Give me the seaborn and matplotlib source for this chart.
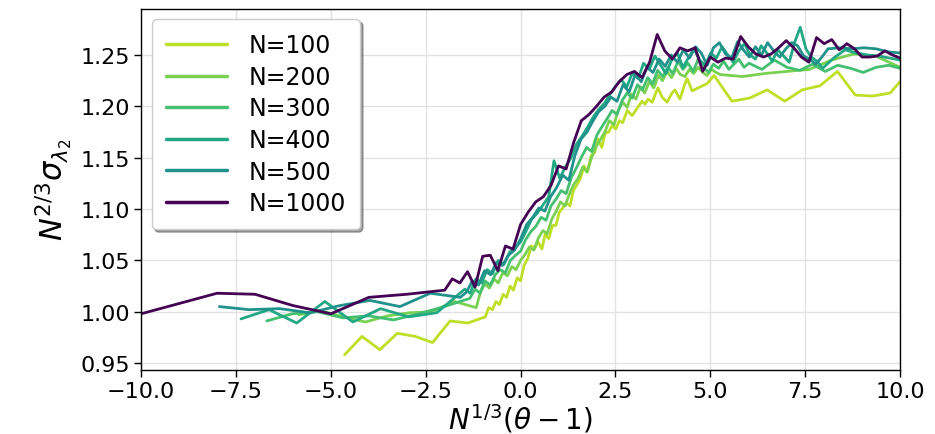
import numpy as np
import pandas as pd
import matplotlib
matplotlib.use("Agg")
import matplotlib.pyplot as plt
import seaborn as sns

# ── data: x = N^{1/3}(theta-1), y = N^{2/3} sigma ──
x_100 = [-4.64, -4.18, -3.71, -3.25, -2.78, -2.32, -1.86, -1.39, -0.93, -0.84, -0.74, -0.65,
         -0.56, -0.46, -0.37, -0.28, -0.19, -0.09, 0.0, 0.09, 0.19, 0.28, 0.37, 0.46, 0.56,
         0.65, 0.74, 0.84, 0.93, 1.02, 1.11, 1.21, 1.30, 1.39, 1.49, 1.58, 1.67, 1.76, 1.86,
         1.95, 2.04, 2.14, 2.23, 2.32, 2.41, 2.51, 2.60, 2.69, 2.81, 2.94, 3.07, 3.20, 3.28,
         3.36, 3.47, 3.54, 3.62, 3.73, 3.86, 3.99, 4.07, 4.20, 4.33, 4.39, 4.52, 4.68, 4.91,
         5.10, 5.57, 6.03, 6.50, 6.96, 7.42, 7.89, 8.35, 8.82, 9.28, 9.74, 10.0]
y_100 = [0.958, 0.976, 0.963, 0.979, 0.976, 0.970, 0.991, 0.989, 0.995, 1.004, 1.002, 1.010,
         1.007, 1.017, 1.014, 1.025, 1.021, 1.033, 1.030, 1.045, 1.052, 1.064, 1.062, 1.068, 1.061,
         1.076, 1.071, 1.084, 1.084, 1.097, 1.101, 1.106, 1.103, 1.118, 1.124, 1.130, 1.142, 1.136, 1.152,
         1.155, 1.168, 1.160, 1.174, 1.175, 1.181, 1.178, 1.186, 1.184, 1.196, 1.191, 1.198, 1.205, 1.202,
         1.207, 1.204, 1.211, 1.218, 1.209, 1.204, 1.213, 1.216, 1.207, 1.222, 1.227, 1.215, 1.218, 1.222,
         1.230, 1.205, 1.208, 1.216, 1.205, 1.216, 1.220, 1.234, 1.211, 1.210, 1.213, 1.224]

x_200 = [-5.85, -5.26, -4.68, -4.09, -3.51, -2.92, -2.34, -1.75, -1.17, -1.05, -0.94, -0.82,
         -0.70, -0.59, -0.47, -0.35, -0.23, -0.12, 0.0, 0.12, 0.23, 0.35, 0.47, 0.59, 0.70,
         0.82, 0.94, 1.05, 1.17, 1.29, 1.40, 1.52, 1.64, 1.75, 1.87, 1.99, 2.11, 2.22, 2.34,
         2.46, 2.57, 2.69, 2.81, 2.92, 3.04, 3.16, 3.27, 3.39, 3.51, 3.63, 3.74, 3.86, 3.98,
         4.10, 4.21, 4.33, 4.45, 4.56, 4.68, 4.80, 4.91, 5.03, 5.15, 5.26, 5.85, 6.44, 7.02,
         7.61, 8.19, 8.78, 9.36, 10.0]
y_200 = [0.997, 1.001, 0.995, 0.990, 0.996, 0.999, 1.000, 1.010, 1.004, 1.020, 1.027, 1.023,
         1.032, 1.028, 1.038, 1.035, 1.044, 1.041, 1.050, 1.056, 1.063, 1.060, 1.072, 1.079, 1.076,
         1.090, 1.098, 1.107, 1.103, 1.115, 1.124, 1.130, 1.141, 1.136, 1.150, 1.161, 1.168, 1.175, 1.186,
         1.182, 1.196, 1.204, 1.199, 1.212, 1.207, 1.219, 1.213, 1.224, 1.218, 1.230, 1.225, 1.234, 1.228,
         1.237, 1.231, 1.229, 1.236, 1.232, 1.238, 1.233, 1.230, 1.236, 1.233, 1.231, 1.229, 1.232, 1.234,
         1.236, 1.245, 1.251, 1.249, 1.238]

x_300 = [-6.69, -6.02, -5.35, -4.68, -4.01, -3.35, -2.68, -2.01, -1.34, -1.20, -1.07, -0.94,
         -0.80, -0.67, -0.54, -0.40, -0.27, -0.13, 0.0, 0.13, 0.27, 0.40, 0.54, 0.67, 0.80,
         0.94, 1.07, 1.20, 1.34, 1.47, 1.61, 1.74, 1.87, 2.01, 2.14, 2.28, 2.41, 2.54, 2.68,
         2.81, 2.94, 3.08, 3.21, 3.35, 3.48, 3.61, 3.75, 3.88, 4.01, 4.15, 4.28, 4.41, 4.55,
         4.68, 4.82, 4.95, 5.08, 5.22, 5.35, 5.49, 5.62, 5.75, 5.89, 6.02, 6.36, 6.69, 7.02,
         7.36, 7.69, 8.03, 8.36, 8.70, 9.03, 9.37, 9.70, 10.0]
y_300 = [0.991, 0.998, 1.000, 0.994, 0.996, 0.992, 0.998, 1.005, 1.013, 1.022, 1.018, 1.030,
         1.026, 1.036, 1.041, 1.038, 1.050, 1.055, 1.059, 1.070, 1.078, 1.083, 1.092, 1.089, 1.103,
         1.110, 1.118, 1.115, 1.131, 1.140, 1.151, 1.160, 1.156, 1.172, 1.180, 1.188, 1.196, 1.192, 1.206,
         1.213, 1.208, 1.221, 1.216, 1.228, 1.222, 1.235, 1.229, 1.238, 1.232, 1.244, 1.236, 1.242, 1.234,
         1.246, 1.238, 1.233, 1.241, 1.237, 1.244, 1.236, 1.241, 1.246, 1.238, 1.242, 1.236, 1.245, 1.238,
         1.235, 1.241, 1.234, 1.240, 1.237, 1.233, 1.238, 1.240, 1.237]

x_400 = [-7.37, -6.63, -5.90, -5.16, -4.42, -3.69, -2.95, -2.21, -1.47, -1.33, -1.18, -1.03,
         -0.88, -0.74, -0.59, -0.44, -0.29, -0.15, 0.0, 0.15, 0.29, 0.44, 0.59, 0.74, 0.88,
         1.03, 1.18, 1.33, 1.47, 1.62, 1.77, 1.92, 2.06, 2.21, 2.36, 2.51, 2.65, 2.80, 2.95,
         3.10, 3.24, 3.39, 3.54, 3.69, 3.83, 3.98, 4.13, 4.28, 4.42, 4.57, 4.72, 4.87, 5.01,
         5.16, 5.31, 5.46, 5.60, 5.75, 5.90, 6.05, 6.19, 6.34, 6.49, 6.63, 6.78, 6.93, 7.08,
         7.22, 7.37, 7.52, 7.66, 7.81, 7.96, 8.25, 8.55, 8.84, 9.14, 9.43, 9.73, 10.0]
y_400 = [0.993, 1.002, 0.989, 1.010, 0.990, 1.003, 0.995, 0.999, 1.022, 1.018, 1.032, 1.028,
         1.041, 1.037, 1.050, 1.046, 1.058, 1.062, 1.068, 1.079, 1.090, 1.096, 1.104, 1.112, 1.147,
         1.130, 1.141, 1.150, 1.163, 1.171, 1.180, 1.190, 1.197, 1.203, 1.212, 1.220, 1.226, 1.219, 1.233,
         1.227, 1.242, 1.236, 1.249, 1.240, 1.232, 1.245, 1.252, 1.238, 1.247, 1.256, 1.245, 1.240, 1.252,
         1.247, 1.258, 1.250, 1.243, 1.254, 1.261, 1.250, 1.246, 1.259, 1.252, 1.244, 1.255, 1.249, 1.243,
         1.262, 1.277, 1.256, 1.248, 1.244, 1.237, 1.247, 1.255, 1.252, 1.250, 1.249, 1.247, 1.245]

x_500 = [-7.94, -7.15, -6.35, -5.56, -4.76, -3.97, -3.18, -2.38, -1.59, -1.43, -1.27, -1.11,
         -0.95, -0.79, -0.64, -0.48, -0.32, -0.16, 0.0, 0.16, 0.32, 0.48, 0.64, 0.79, 0.95,
         1.11, 1.27, 1.43, 1.59, 1.75, 1.91, 2.06, 2.22, 2.38, 2.54, 2.70, 2.86, 3.02, 3.18,
         3.33, 3.49, 3.65, 3.81, 3.97, 4.13, 4.29, 4.45, 4.61, 4.76, 4.92, 5.08, 5.24, 5.40,
         5.56, 5.72, 5.87, 6.03, 6.19, 6.35, 6.51, 6.67, 6.83, 6.99, 7.15, 7.30, 7.46, 7.62,
         7.78, 7.94, 8.10, 8.41, 8.73, 9.05, 9.37, 9.69, 10.0]
y_500 = [1.005, 1.002, 1.003, 0.999, 1.006, 1.011, 1.005, 1.018, 1.014, 1.019, 1.030, 1.026,
         1.040, 1.036, 1.048, 1.045, 1.055, 1.060, 1.071, 1.085, 1.092, 1.101, 1.098, 1.112, 1.121,
         1.133, 1.128, 1.152, 1.168, 1.175, 1.186, 1.195, 1.200, 1.209, 1.205, 1.221, 1.214, 1.231, 1.224,
         1.238, 1.233, 1.246, 1.239, 1.250, 1.243, 1.255, 1.247, 1.258, 1.252, 1.240, 1.257, 1.262, 1.251,
         1.247, 1.263, 1.255, 1.248, 1.258, 1.250, 1.262, 1.254, 1.248, 1.256, 1.262, 1.259, 1.249, 1.246,
         1.241, 1.248, 1.256, 1.257, 1.256, 1.257, 1.256, 1.253, 1.252]

x_1000 = [-10.0, -8.0, -7.0, -6.0, -5.0, -4.0, -3.0, -2.0, -1.8, -1.6, -1.4, -1.2, -1.0, -0.8,
          -0.6, -0.4, -0.2, 0.0, 0.2, 0.4, 0.6, 0.8, 1.0, 1.2, 1.4, 1.6, 1.8, 2.0, 2.2, 2.4,
          2.6, 2.8, 3.0, 3.2, 3.4, 3.6, 3.8, 4.0, 4.2, 4.4, 4.6, 4.8, 5.0, 5.2, 5.4, 5.6, 5.8,
          6.0, 6.2, 6.4, 6.6, 6.8, 7.0, 7.2, 7.4, 7.6, 7.8, 8.0, 8.2, 8.4, 8.6, 8.8, 9.0, 9.2,
          9.4, 9.6, 9.8, 10.0]
y_1000 = [0.998, 1.018, 1.017, 1.006, 0.998, 1.014, 1.017, 1.021, 1.032, 1.028, 1.039, 1.024,
          1.054, 1.055, 1.040, 1.064, 1.061, 1.085, 1.097, 1.107, 1.112, 1.123, 1.142, 1.139,
          1.165, 1.186, 1.192, 1.200, 1.209, 1.214, 1.224, 1.231, 1.234, 1.228, 1.243, 1.270,
          1.254, 1.246, 1.257, 1.254, 1.257, 1.234, 1.248, 1.243, 1.247, 1.246, 1.268, 1.258,
          1.251, 1.248, 1.251, 1.257, 1.264, 1.257, 1.248, 1.243, 1.267, 1.261, 1.265, 1.255,
          1.261, 1.256, 1.248, 1.248, 1.249, 1.254, 1.250, 1.247]

sizes = [100, 200, 300, 400, 500, 1000]
xs = [x_100, x_200, x_300, x_400, x_500, x_1000]
ys = [y_100, y_200, y_300, y_400, y_500, y_1000]

frames = []
for n, xv, yv in zip(sizes, xs, ys):
    frames.append(pd.DataFrame({"x": xv, "y": yv, "N": f"N={n}"}))
df = pd.concat(frames, ignore_index=True)

labels = [f"N={n}" for n in sizes]
cmap = plt.get_cmap("viridis")
palette = {f"N={n}": cmap(1 - n / 1000) for n in sizes}

sns.set_theme(style="ticks", rc={"text.color": "black", "axes.labelcolor": "black",
                                 "xtick.color": "black", "ytick.color": "black"})
plt.rcParams["font.family"] = ["DejaVu Sans"]

fig, ax = plt.subplots(figsize=(9.35, 4.35), dpi=100)
fig.subplots_adjust(left=0.151, right=0.9626, bottom=0.147, top=0.978)

sns.lineplot(data=df, x="x", y="y", hue="N", hue_order=labels, palette=palette,
             estimator=None, sort=False, linewidth=2.0, ax=ax)

ax.set_xlim(-10, 10)
ax.set_ylim(0.9432, 1.2952)
ax.set_xticks(np.arange(-10, 10.01, 2.5))
ax.set_yticks(np.arange(0.95, 1.2501, 0.05))
ax.yaxis.set_major_formatter(matplotlib.ticker.FormatStrFormatter("%.2f"))
ax.grid(True, color="#e3e3e3", linewidth=1.0)
for s in ax.spines.values():
    s.set_color("black")
    s.set_linewidth(1.0)
ax.tick_params(labelsize=16, length=5, width=1, color="black", labelcolor="black", pad=3)

ax.set_xlabel(r"$N^{1/3}(\theta-1)$", fontsize=20, labelpad=0)
ax.set_ylabel(r"$N^{2/3}\sigma_{\lambda_2}$", fontsize=22, labelpad=4)

leg = ax.legend(loc="upper left", fontsize=17, frameon=True, fancybox=True, shadow=True,
                framealpha=1, handlelength=2.6, handletextpad=0.9, labelspacing=0.32,
                borderpad=0.6, borderaxespad=0.45)
leg.get_frame().set_edgecolor("#cccccc")
for h in leg.get_lines():
    h.set_linewidth(2.5)

fig.savefig("out.png", dpi=100)
plt.close()
